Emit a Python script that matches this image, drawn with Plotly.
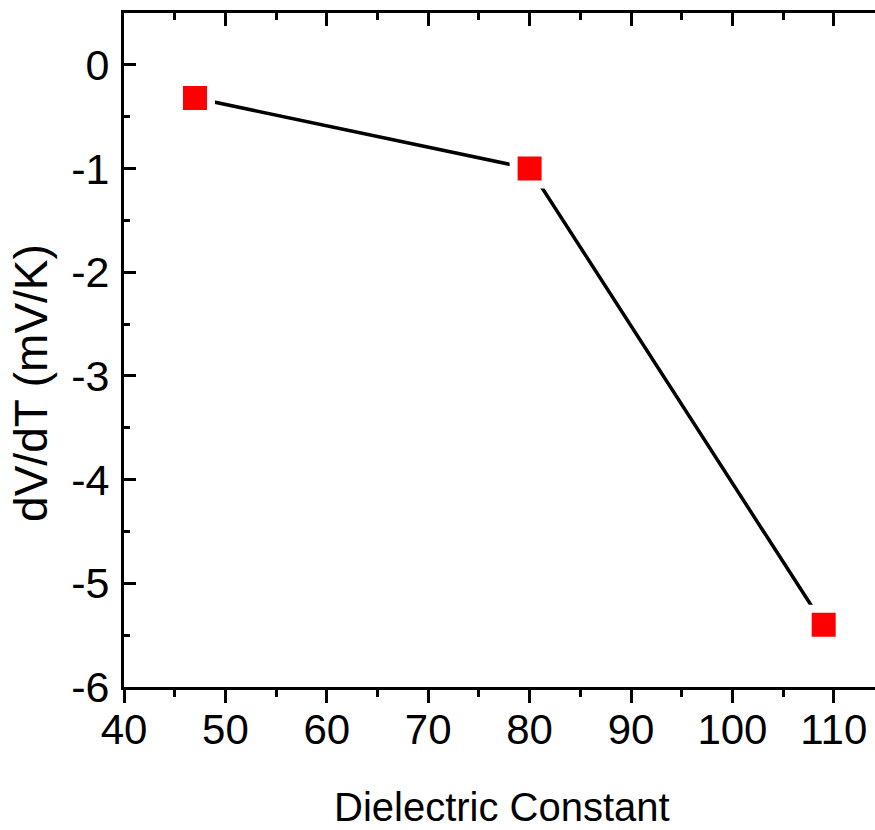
import plotly.graph_objects as go

# Data
dielectric_constant = [47, 80, 109]
dv_dt = [-0.32, -1.0, -5.4]

x_tick_vals = [40, 50, 60, 70, 80, 90, 100, 110]
y_tick_vals = [-6, -5, -4, -3, -2, -1, 0]
x_title = "Dielectric Constant"
y_title = "dV/dT (mV/K)"

font_fam = "Liberation Sans, Arial, sans-serif"

fig = go.Figure()
fig.add_trace(go.Scatter(
    x=dielectric_constant, y=dv_dt, mode="lines+markers",
    line=dict(color="black", width=3.5),
    marker=dict(symbol="square", size=32, color="#FF0000",
                line=dict(color="white", width=8)),
    showlegend=False, cliponaxis=False,
))
# invisible trace to anchor the top axis
fig.add_trace(go.Scatter(x=[None], y=[None], xaxis="x2", yaxis="y",
                         showlegend=False, hoverinfo="skip"))

xr = [40, 114.06]
yr = [-6, 0.5]

fig.update_layout(
    width=875, height=830,
    margin=dict(l=124, r=0, t=13, b=143),
    plot_bgcolor="white", paper_bgcolor="white",
    xaxis=dict(
        range=xr, tickvals=x_tick_vals, ticktext=[str(v) for v in x_tick_vals],
        showgrid=False, zeroline=False,
        showline=True, linecolor="black", linewidth=3,
        ticks="outside", ticklen=13, tickwidth=3, tickcolor="black",
        minor=dict(dtick=5, tick0=0, ticks="outside", ticklen=7, tickwidth=3, tickcolor="black"),
        tickfont=dict(family=font_fam, size=42, color="black"),
        ticklabelstandoff=-9,
    ),
    xaxis2=dict(
        range=xr, overlaying="x", side="top", anchor="y",
        tickvals=x_tick_vals, showticklabels=False,
        showgrid=False, zeroline=False,
        showline=True, linecolor="black", linewidth=3,
        ticks="inside", ticklen=13, tickwidth=3, tickcolor="black",
        minor=dict(dtick=5, tick0=0, ticks="inside", ticklen=7, tickwidth=3, tickcolor="black"),
    ),
    yaxis=dict(
        range=yr, tickvals=y_tick_vals, ticktext=[str(v) for v in y_tick_vals],
        showgrid=False, zeroline=False,
        showline=True, linecolor="black", linewidth=3,
        ticks="inside", ticklen=12, tickwidth=3, tickcolor="black",
        minor=dict(dtick=0.5, tick0=0, ticks="inside", ticklen=6, tickwidth=3, tickcolor="black"),
        tickfont=dict(family=font_fam, size=43, color="black"),
        ticklabelstandoff=3,
    ),
    annotations=[
        dict(text=x_title, xref="paper", yref="paper", x=0.503, y=-0.178,
             xanchor="center", yanchor="middle", showarrow=False,
             font=dict(family=font_fam, size=40, color="black")),
        dict(text=y_title, xref="paper", yref="paper", x=-0.124, y=0.451,
             xanchor="center", yanchor="middle", showarrow=False, textangle=-90,
             font=dict(family=font_fam, size=46, color="black")),
    ],
)

fig.write_html("out.html")
